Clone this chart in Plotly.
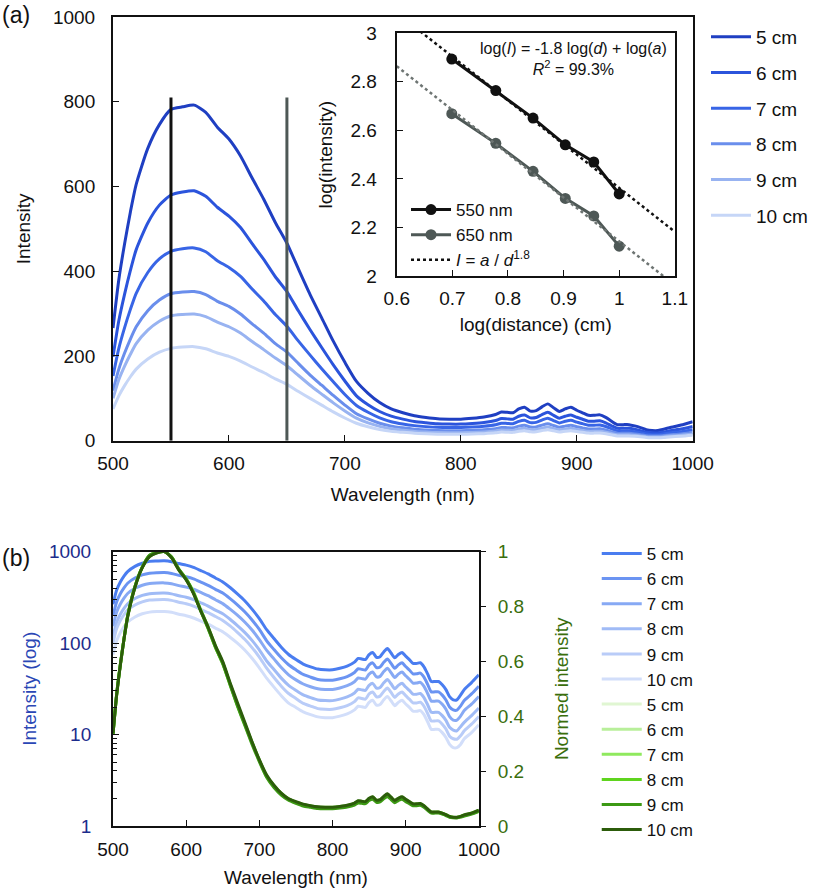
import numpy as np
import plotly.graph_objects as go

# wavelength grid (nm) and spectra, one list per distance
wavelength = [500, 505, 510, 515, 520, 530, 540, 550, 560, 570, 580, 590, 600, 610, 620, 630, 640, 650,
              660, 670, 680, 690, 700, 710, 720, 730, 740, 750, 760, 770, 780, 790, 800, 810, 820, 830,
              835, 840, 845, 850, 855, 860, 865, 870, 875, 880, 885, 890, 895, 900, 905, 910, 915, 920,
              925, 930, 935, 940, 945, 950, 955, 960, 965, 970, 975, 980, 990, 1000]

i5 = [266, 380, 465, 540, 605, 690, 746, 782, 788, 792, 775, 740, 712, 672, 620, 570, 515, 466,
      405, 345, 290, 235, 185, 140, 112, 90, 75, 66, 59, 55, 52, 51, 51, 53, 56, 62,
      68, 67, 66, 75, 79, 70, 71, 80, 87, 78, 69, 75, 79, 72, 66, 60, 60, 61,
      55, 46, 38, 38, 38, 35, 31, 26, 24, 24, 27, 31, 37, 45]
i6 = [198, 283, 346, 402, 451, 514, 556, 580, 587, 590, 577, 551, 530, 503, 465, 428, 387, 352,
      306, 262, 220, 179, 141, 106, 85, 69, 58, 51, 45.4, 42.4, 40, 39.3, 39.3, 40.8, 43.1, 47.7,
      52.4, 51.6, 50.8, 57.8, 60.8, 53.9, 54.7, 61.6, 67, 60, 53.1, 57.8, 60.8, 55.4, 50.8, 46.2, 46.2, 47,
      42.4, 35.4, 29.3, 29.3, 29.3, 27, 23.9, 20, 18.6, 18.5, 20.5, 23.6, 27.8, 33.8]
i7 = [153, 218, 267, 310, 348, 397, 429, 447, 453, 455, 446, 425, 409, 388, 358, 330, 298, 270,
      235, 202, 170, 139, 109, 83.3, 67.2, 54, 45, 39.6, 35.7, 33.3, 31.7, 31.1, 31.1, 32.3, 34.2, 37.8,
      41.5, 40.9, 40.3, 45.8, 48.2, 42.7, 43.3, 48.8, 53.1, 47.6, 42.1, 45.8, 48.2, 43.9, 40.3, 36.6, 36.6, 37.2,
      33.6, 28.1, 23.2, 23.2, 23.2, 21.4, 18.9, 15.7, 14.4, 14.4, 15.9, 18.3, 21.5, 26.1]
i8 = [118, 169, 207, 240, 269, 307, 332, 347, 351, 352, 345, 329, 317, 299, 276, 254, 229, 209,
      182, 155, 131, 107, 84.2, 63.7, 51.5, 41.4, 34.5, 30.4, 27.1, 25.3, 23.9, 23.5, 23.5, 24.4, 25.8, 28.5,
      31.3, 30.8, 30.4, 34.5, 36.3, 32.2, 32.7, 36.8, 40, 35.9, 31.7, 34.5, 36.3, 33.1, 30.4, 27.6, 27.6, 28.1,
      25.3, 21.2, 17.5, 17.5, 17.5, 16.1, 14.3, 12, 11.2, 11, 12.2, 13.6, 16.1, 19.5]
i9 = [100, 144, 176, 204, 229, 261, 282, 295, 298, 299, 293, 280, 269, 254, 234, 215, 195, 177,
      154, 131, 110, 89.3, 70.3, 53.2, 42, 33.8, 28.1, 24.8, 21.9, 20.5, 19.2, 18.9, 18.9, 19.6, 20.7, 22.9,
      25.2, 24.8, 24.4, 27.8, 29.2, 25.9, 26.3, 29.6, 32.2, 28.9, 25.5, 27.8, 29.2, 26.6, 24.4, 22.2, 22.2, 22.6,
      20.4, 17, 14.1, 14.1, 14.1, 13, 11.5, 9.6, 9, 8.9, 9.7, 11, 13, 15.8]
i10 = [75, 106, 130, 151, 169, 193, 209, 218, 221, 222, 217, 207, 199, 188, 174, 161, 146, 133,
       116, 100, 84.1, 68.2, 53.7, 41.3, 33, 26.6, 22.1, 19.8, 17.7, 16.5, 15.6, 15.3, 15.3, 15.9, 16.8, 18.6,
       20.4, 20.1, 19.8, 22.5, 23.7, 21, 21.3, 24, 26.1, 23.4, 20.7, 22.5, 23.7, 21.6, 19.8, 18, 18, 18.3,
       16.5, 13.8, 11.4, 11.4, 11.4, 10.5, 9.3, 7.8, 7.2, 7.2, 7.8, 9, 10.5, 12.8]

distances = [5, 6, 7, 8, 9, 10]
spectra = [i5, i6, i7, i8, i9, i10]
names = ["5 cm", "6 cm", "7 cm", "8 cm", "9 cm", "10 cm"]

top_colors = ["#1f3fc2", "#2b54dc", "#3865e6", "#6a8eec", "#98b3f1", "#c6d6f7"]
blue_colors = ["#4a7df0", "#6b94f2", "#87a9f4", "#a0bbf6", "#b9ccf8", "#d2defa"]
green_colors = ["#e0f6d2", "#b8ef9a", "#8fe95e", "#5fd41e", "#3c9914", "#2c5c0b"]

picked_wl = [550, 650]
picked_colors = ["#111111", "#4e5856"]
fit_colors = ["#111111", "#6e7573"]
fit_slope = -1.8

FONT = "Liberation Sans, Arial, Helvetica, sans-serif"

fig = go.Figure()

# (a) linear spectra
for k, s in enumerate(spectra):
    fig.add_trace(go.Scatter(
        x=wavelength, y=s, name=names[k], mode="lines",
        line=dict(color=top_colors[k], width=3, shape="spline", smoothing=0.6),
        xaxis="x", yaxis="y", legend="legend", legendgroup="a" + str(k)))

for wl, col in zip(picked_wl, picked_colors):
    fig.add_shape(type="line", xref="x", yref="y", x0=wl, x1=wl, y0=0, y1=810,
                  line=dict(color=col, width=3))

# inset: log intensity at the two marked wavelengths vs log distance
log_d = np.log10(distances)
xs_fit = np.array([0.6, 1.1])
fits = []
for wl, col, fitcol in zip(picked_wl, picked_colors, fit_colors):
    idx = wavelength.index(wl)
    log_i = np.log10([s[idx] for s in spectra])
    icept = np.mean(log_i - fit_slope * log_d)
    fits.append((icept, fitcol, wl))
    fig.add_trace(go.Scatter(
        x=log_d, y=log_i, name=f"{wl} nm", mode="lines+markers",
        line=dict(color=col, width=3), marker=dict(color=col, size=11),
        xaxis="x2", yaxis="y2", legend="legend3"))
for icept, fitcol, wl in fits:
    fig.add_trace(go.Scatter(
        x=xs_fit, y=icept + fit_slope * xs_fit, mode="lines",
        name="<i>I</i> = <i>a</i> / <i>d</i><sup>1.8</sup>",
        showlegend=(wl == 550),
        line=dict(color=fitcol, width=2.5, dash="dot"),
        xaxis="x2", yaxis="y2", legend="legend3"))

# (b) log spectra + normalised spectra
for k, s in enumerate(spectra):
    fig.add_trace(go.Scatter(
        x=wavelength, y=s, name=names[k], mode="lines",
        line=dict(color=blue_colors[k], width=3, shape="spline", smoothing=0.6),
        xaxis="x3", yaxis="y3", legend="legend2"))
for k, s in enumerate(spectra):
    arr = np.array(s, dtype=float)
    fig.add_trace(go.Scatter(
        x=wavelength, y=arr / arr.max(), name=names[k], mode="lines",
        line=dict(color=green_colors[k], width=3, shape="spline", smoothing=0.6),
        xaxis="x3", yaxis="y4", legend="legend2"))

tickfont = dict(family=FONT, size=19, color="#111111")
titlefont = dict(family=FONT, size=19, color="#111111")
frame = dict(showline=True, linecolor="#111111", linewidth=2, ticks="inside", automargin=False,
             ticklen=6, tickcolor="#111111", showgrid=False, zeroline=False)
leg = dict(xanchor="left", bgcolor="rgba(0,0,0,0)", itemwidth=40)

fig.update_layout(
    width=813, height=894,
    margin=dict(l=0, r=0, t=0, b=0),
    paper_bgcolor="white", plot_bgcolor="white",
    font=dict(family=FONT, size=19, color="#111111"),
    xaxis=dict(domain=[0.139, 0.852], range=[500, 1000], dtick=100, mirror=True,
               tickfont=tickfont, ticklabelstandoff=4,
               title=dict(text="Wavelength (nm)", font=titlefont, standoff=15),
               anchor="y", **frame),
    yaxis=dict(domain=[0.507, 0.981], range=[0, 1000], dtick=200, mirror=True,
               tickfont=tickfont, ticklabelstandoff=12,
               title=dict(text="Intensity", font=titlefont, standoff=17),
               anchor="x", **frame),
    xaxis2=dict(domain=[0.488, 0.830], range=[0.6, 1.1], dtick=0.1, mirror=True,
                tickfont=tickfont, ticklabelstandoff=4,
                title=dict(text="log(distance) (cm)", font=titlefont, standoff=10),
                anchor="y2", **frame),
    yaxis2=dict(domain=[0.691, 0.963], range=[2, 3], dtick=0.2, mirror=True,
                tickfont=tickfont, ticklabelstandoff=14,
                title=dict(text="log(intensity)", font=titlefont, standoff=13),
                anchor="x2", **frame),
    xaxis3=dict(domain=[0.139, 0.589], range=[500, 1000], dtick=100, mirror=True,
                tickfont=tickfont, ticklabelstandoff=5,
                title=dict(text="Wavelength (nm)", font=titlefont, standoff=12),
                anchor="y3", **frame),
    yaxis3=dict(domain=[0.076, 0.383], type="log", range=[0, 3],
                tickvals=[1, 10, 100, 1000], ticktext=["1", "10", "100", "1000"],
                tickfont=dict(family=FONT, size=19, color="#1c2c8c"), ticklabelstandoff=16,
                minor=dict(ticks="inside", ticklen=4, dtick="D1", tickcolor="#111111", showgrid=False),
                title=dict(text="Intensity (log)", font=dict(family=FONT, size=19, color="#2b47b5"),
                           standoff=7),
                anchor="x3", showline=True, linecolor="#111111", linewidth=2, ticks="inside",
                automargin=False, ticklen=6, tickcolor="#111111", showgrid=False, zeroline=False),
    yaxis4=dict(overlaying="y3", side="right", range=[0, 1], dtick=0.2, anchor="x3",
                tickfont=dict(family=FONT, size=19, color="#3a6e0c"), ticklabelstandoff=8,
                title=dict(text="Normed intensity", font=dict(family=FONT, size=19, color="#3a6e0c"),
                           standoff=31),
                showline=True, linecolor="#111111", linewidth=2, ticks="outside", ticklen=5,
                automargin=False, tickcolor="#111111", showgrid=False, zeroline=False),
    legend=dict(x=0.8685, y=0.980, yanchor="top", font=dict(family=FONT, size=19),
                tracegroupgap=8, **leg),
    legend2=dict(x=0.734, y=0.4005, yanchor="top", font=dict(family=FONT, size=17),
                 tracegroupgap=0, **leg),
    legend3=dict(x=0.4994, y=0.689, yanchor="bottom", font=dict(family=FONT, size=17),
                 tracegroupgap=0, **leg),
    annotations=[
        dict(text="(a)", x=0.0, y=1.0, xref="paper", yref="paper", xanchor="left", yanchor="top",
             showarrow=False, font=dict(family=FONT, size=23)),
        dict(text="(b)", x=0.0, y=0.3926, xref="paper", yref="paper", xanchor="left", yanchor="top",
             showarrow=False, font=dict(family=FONT, size=23)),
        dict(text="log(<i>I</i>) = -1.8 log(<i>d</i>) + log(<i>a</i>)<br><i>R</i><sup>2</sup> = 99.3%",
             x=0.706, y=0.9575, xref="paper", yref="paper", xanchor="center", yanchor="top",
             align="center", showarrow=False, font=dict(family=FONT, size=16)),
    ],
)

# drop the browser's default 8px page margin so the figure sits at the window's corner
fig.write_html("out.html", config={"displayModeBar": False},
               post_script="document.body.style.margin = '0';")
